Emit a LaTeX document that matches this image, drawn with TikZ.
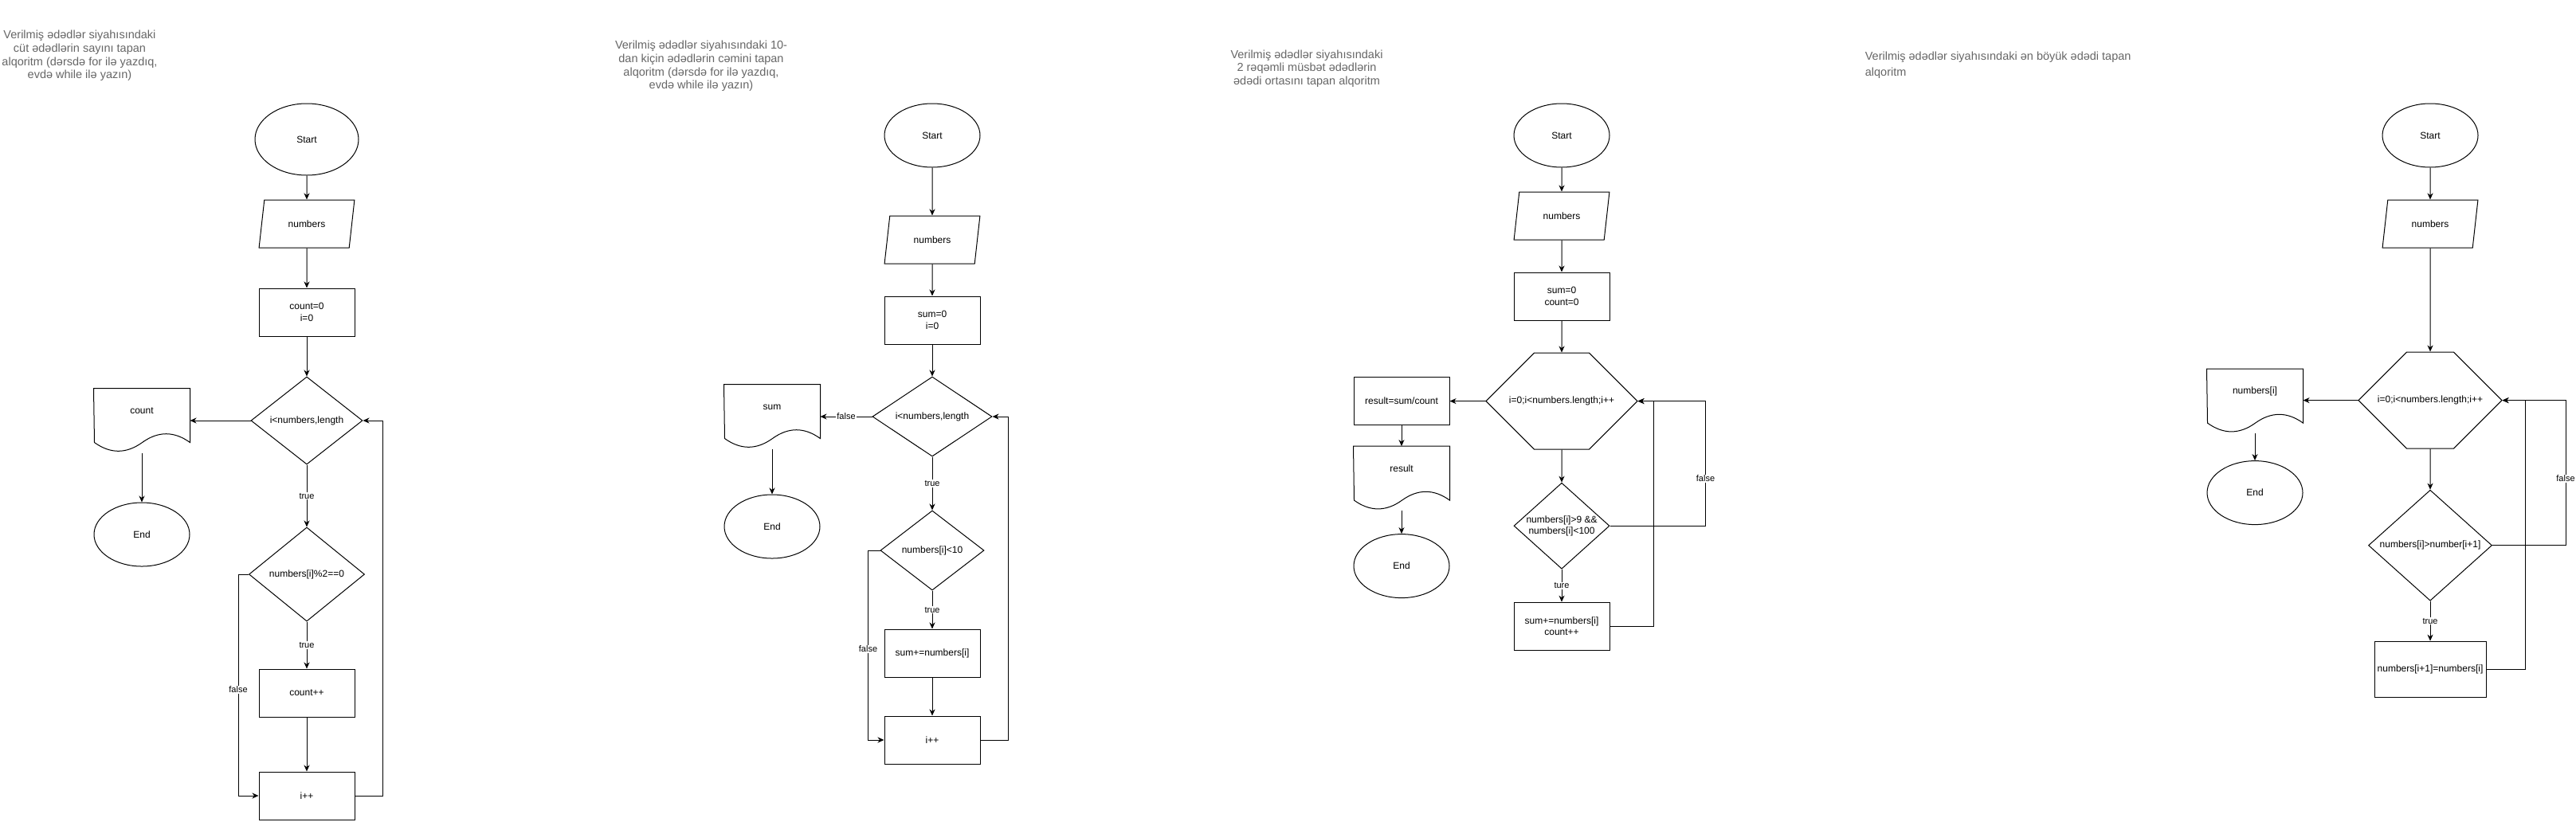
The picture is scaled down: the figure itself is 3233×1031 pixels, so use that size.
\documentclass[tikz,border=0pt]{standalone}
\usepackage{fontspec}
\setmainfont{Liberation Sans}
\usetikzlibrary{shapes.geometric,shapes.misc,arrows.meta,positioning}
\definecolor{titlegray}{HTML}{666666}

% document symbol: flat top, wavy bottom
\newcommand{\docoutline}[1]{%
  \draw (#1.north west) -- (#1.north east) -- ++(0,68)
    .. controls +(-20,-14.4) and +(20,-14.4) .. ++(-60,0)
    .. controls +(-20,14.4) and +(20,14.4) .. ++(-60,0) -- cycle;}

\begin{document}
\begin{tikzpicture}[
    x=1pt, y=-1pt,
    line width=1pt,
    font=\fontsize{12pt}{14.4pt}\selectfont,
    terminal/.style={ellipse, draw, minimum width=120pt, minimum height=80pt, inner sep=0pt},
    inout/.style={trapezium, trapezium left angle=71.57, trapezium right angle=108.43, trapezium stretches=true, draw, minimum width=120pt, minimum height=60pt, inner sep=0pt},
    box/.style={rectangle, draw, minimum width=120pt, minimum height=60pt, inner sep=0pt, align=center},
    decision/.style={diamond, draw, aspect=1.2, inner sep=0pt, align=center},
    loophex/.style={chamfered rectangle, chamfered rectangle xsep=20pt, chamfered rectangle ysep=55pt, draw, minimum width=190pt, minimum height=110pt, inner sep=0pt},
    doc/.style={rectangle, minimum width=120pt, minimum height=56pt, inner sep=0pt},
    title/.style={text=titlegray, font=\fontsize{14.5pt}{16.7pt}\selectfont, align=center},
    lbl/.style={fill=white, font=\fontsize{11pt}{13pt}\selectfont, inner sep=1pt},
    arrow/.style={->, >={Stealth[length=8pt, width=7pt, inset=2.5pt]}}
]
\useasboundingbox (0,0) rectangle (3233,1031);

% cut ededlerin sayi
\node[title] (t1) at (100,70) {Verilmiş ədədlər siyahısındaki\\cüt ədədlərin sayını tapan\\alqoritm (dərsdə for ilə yazdıq,\\evdə while ilə yazın)};
\node[terminal, minimum width=130pt, minimum height=90pt] (s1) at (385,175) {Start};
\node[inout, below=30pt of s1] (in1) {numbers};
\node[box, below=50pt of in1] (init1) {count=0\\i=0};
\node[decision, minimum width=140pt, minimum height=110pt, below=50pt of init1] (loop1) {i<numbers,length};
\node[doc, left=76pt of loop1, yshift=12pt] (out1) {count};
\node[terminal, below=86pt of out1] (end1) {End};
\node[decision, minimum width=145pt, minimum height=118pt, below=78pt of loop1] (cond1) {numbers[i]\%2==0};
\node[box, below=59pt of cond1] (inc1) {count++};
\node[box, below=68pt of inc1] (step1) {i++};

\draw[arrow] (s1) -- (in1);
\draw[arrow] (in1) -- (init1);
\draw[arrow] (init1) -- (loop1);
\draw[arrow] (loop1.west) -- (loop1.west -| out1.east);
\docoutline{out1}
\draw[arrow] ([yshift=-24pt]out1.south) -- (end1);
\draw[arrow] (loop1) -- node[lbl] {true} (cond1);
\draw[arrow] (cond1) -- node[lbl] {true} (inc1);
\draw[arrow] (inc1) -- (step1);
\draw[arrow] (cond1.west) -- ++(-13,0) |- node[lbl, pos=0.26] {false} (step1.west);
\draw[arrow] (step1.east) -- ++(35,0) |- (loop1.east);

% 10-dan kicik ededlerin cemi
\node[title] (t2) at (880,83) {Verilmiş ədədlər siyahısındaki 10-\\dan kiçin ədədlərin cəmini tapan\\alqoritm (dərsdə for ilə yazdıq,\\evdə while ilə yazın)};
\node[terminal] (s2) at (1170,170) {Start};
\node[inout, below=60pt of s2] (in2) {numbers};
\node[box, below=40pt of in2] (init2) {sum=0\\i=0};
\node[decision, minimum width=150pt, minimum height=100pt, below=40pt of init2] (loop2) {i<numbers,length};
\node[doc, left=65pt of loop2, yshift=12pt] (out2) {sum};
\node[terminal, below=81pt of out2] (end2) {End};
\node[decision, minimum width=130pt, minimum height=100pt, below=67pt of loop2] (cond2) {numbers[i]<10};
\node[box, below=48pt of cond2] (inc2) {sum+=numbers[i]};
\node[box, below=48pt of inc2] (step2) {i++};

\draw[arrow] (s2) -- (in2);
\draw[arrow] (in2) -- (init2);
\draw[arrow] (init2) -- (loop2);
\draw[arrow] (loop2.west) -- node[lbl] {false} (loop2.west -| out2.east);
\docoutline{out2}
\draw[arrow] ([yshift=-24pt]out2.south) -- (end2);
\draw[arrow] (loop2) -- node[lbl] {true} (cond2);
\draw[arrow] (cond2) -- node[lbl] {true} (inc2);
\draw[arrow] (inc2) -- (step2);
\draw[arrow] (cond2.west) -- ++(-15,0) |- node[lbl, pos=0.26] {false} (step2.west);
\draw[arrow] (step2.east) -- ++(35,0) |- (loop2.east);

% 2 reqemli ededlerin ortasi
\node[title] (t3) at (1640,86) {Verilmiş ədədlər siyahısındaki\\2 rəqəmli müsbət ədədlərin\\ədədi ortasını tapan alqoritm};
\node[terminal] (s3) at (1960,170) {Start};
\node[inout, below=30pt of s3] (in3) {numbers};
\node[box, below=40pt of in3] (init3) {sum=0\\count=0};
\node[loophex, below=40pt of init3] (loop3) {i=0;i<numbers.length;i++};
\node[box, left=45pt of loop3] (calc3) {result=sum/count};
\node[doc, below=26pt of calc3] (out3) {result};
\node[terminal, below=53pt of out3] (end3) {End};
\node[decision, minimum width=120pt, minimum height=108pt, below=41pt of loop3] (cond3) {numbers[i]>9 \&\&\\numbers[i]<100};
\node[box, below=41pt of cond3] (inc3) {sum+=numbers[i]\\count++};

\draw[arrow] (s3) -- (in3);
\draw[arrow] (in3) -- (init3);
\draw[arrow] (init3) -- (loop3);
\draw[arrow] (loop3.west) -- (calc3.east);
\draw[arrow] (calc3) -- (out3);
\docoutline{out3}
\draw[arrow] ([yshift=-24pt]out3.south) -- (end3);
\draw[arrow] (loop3) -- (cond3);
\draw[arrow] (cond3) -- node[lbl] {ture} (inc3);
\draw[arrow] (inc3.east) -- ++(55,0) |- (loop3.east);
\draw[arrow] (cond3.east) -- ++(120,0) |- node[lbl, pos=0.19] {false} (loop3.east);

% en boyuk eded
\node[title, font=\fontsize{14.5pt}{20pt}\selectfont, align=left, anchor=west] (t4) at (2337,82) {Verilmiş ədədlər siyahısındaki ən böyük ədədi tapan\\alqoritm};
\node[terminal] (s4) at (3050,170) {Start};
\node[inout, below=40pt of s4] (in4) {numbers};
\node[loophex, minimum width=180pt, below=130pt of in4] (loop4) {i=0;i<numbers.length;i++};
\node[doc, left=69pt of loop4, yshift=11pt] (out4) {numbers[i]};
\node[terminal, below=58pt of out4] (end4) {End};
\node[decision, minimum width=155pt, minimum height=139pt, below=51pt of loop4] (cond4) {numbers[i]>number[i+1]};
\node[box, minimum width=140pt, minimum height=70pt, below=50pt of cond4] (set4) {numbers[i+1]=numbers[i]};

\draw[arrow] (s4) -- (in4);
\draw[arrow] (in4) -- (loop4);
\draw[arrow] (loop4.west) -- (loop4.west -| out4.east);
\docoutline{out4}
\draw[arrow] ([yshift=-24pt]out4.south) -- (end4);
\draw[arrow] (loop4) -- (cond4);
\draw[arrow] (cond4) -- node[lbl] {true} (set4);
\draw[arrow] (set4.east) -- ++(49,0) |- (loop4.east);
\draw[arrow] (cond4.east) -- ++(92,0) |- node[lbl, pos=0.23] {false} (loop4.east);

\end{tikzpicture}
\end{document}
